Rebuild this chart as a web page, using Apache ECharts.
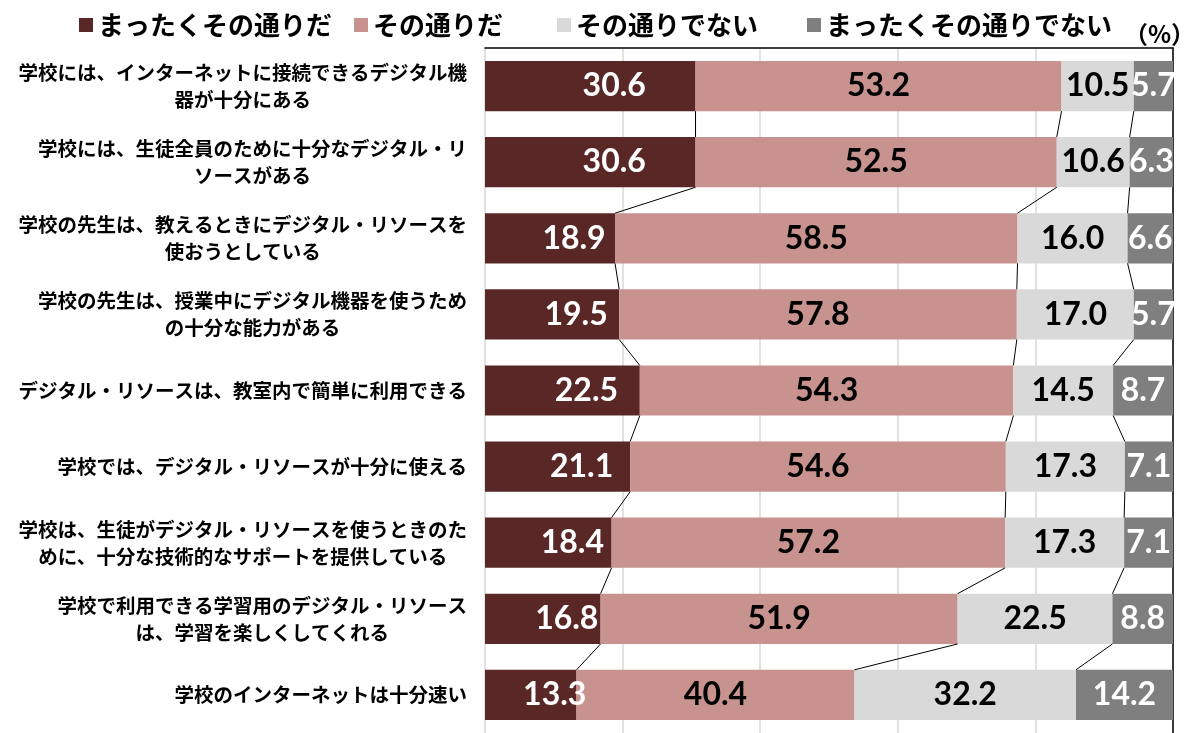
<!DOCTYPE html>
<html><head><meta charset="utf-8">
<script src="https://cdn.jsdelivr.net/npm/echarts@6/dist/echarts.min.js"></script>
<style>html,body{margin:0;padding:0;background:#fff}#c{width:1200px;height:733px}</style>
</head><body><div id="c"></div>
<script>
const categories = [
  '学校には、インターネットに接続できるデジタル機\n器が十分にある',
  '学校には、生徒全員のために十分なデジタル・リ\nソースがある',
  '学校の先生は、教えるときにデジタル・リソースを\n使おうとしている',
  '学校の先生は、授業中にデジタル機器を使うため\nの十分な能力がある',
  'デジタル・リソースは、教室内で簡単に利用できる',
  '学校では、デジタル・リソースが十分に使える',
  '学校は、生徒がデジタル・リソースを使うときのた\nめに、十分な技術的なサポートを提供している',
  '学校で利用できる学習用のデジタル・リソース\nは、学習を楽しくしてくれる',
  '学校のインターネットは十分速い'
];
const seriesNames = ['まったくその通りだ', 'その通りだ', 'その通りでない', 'まったくその通りでない'];
const stronglyAgree    = [30.6, 30.6, 18.9, 19.5, 22.5, 21.1, 18.4, 16.8, 13.3];
const agree            = [53.2, 52.5, 58.5, 57.8, 54.3, 54.6, 57.2, 51.9, 40.4];
const disagree         = [10.5, 10.6, 16.0, 17.0, 14.5, 17.3, 17.3, 22.5, 32.2];
const stronglyDisagree = [5.7, 6.3, 6.6, 5.7, 8.7, 7.1, 7.1, 8.8, 14.2];
const xTicks = [0, 20, 40, 60, 80, 100];
const unitLabel = '（%）';

const values = [stronglyAgree, agree, disagree, stronglyDisagree];
const colors = ['#592826', '#c8928f', '#d9d9d9', '#7f7f7f'];
const labelColors = ['#ffffff', '#000000', '#000000', '#ffffff'];
const labelOffsets = [[24, 0], [0, 0], [0, 0], [0, 0]];
const legendLefts = [79, 354, 557, 807];
const BAR_RATIO = 0.66;
const CAT_FS = 19.5;

// cumulative boundaries for connector lines
const cum = [];
let run = categories.map(() => 0);
for (let k = 0; k < 3; k++) {
  run = run.map((r, i) => +(r + values[k][i]).toFixed(1));
  cum.push(run.slice());
}
const connectorData = [];
cum.forEach(c => {
  for (let i = 0; i < categories.length - 1; i++) connectorData.push([c[i], c[i + 1], i]);
});

const rich = {};
for (let n = 1; n <= 30; n++) {
  rich['w' + n] = { width: n * CAT_FS, align: 'center', fontSize: CAT_FS, lineHeight: 27,
    fontWeight: 'bold', color: '#000', fontFamily: 'Noto Sans CJK JP' };
}

const barSeries = seriesNames.map((name, k) => ({
  name, type: 'bar', stack: 'total', data: values[k],
  barCategoryGap: '34%',
  itemStyle: { color: colors[k] },
  label: {
    show: true, position: 'inside', offset: labelOffsets[k],
    formatter: p => Number(p.value).toFixed(1),
    color: labelColors[k], fontSize: 32, fontWeight: 'bold', fontFamily: 'Lato'
  },
  z: 2
}));

const legends = seriesNames.map((name, k) => ({
  data: [name], left: legendLefts[k], top: 12, padding: 0,
  icon: 'rect', itemWidth: 14, itemHeight: 14, selectedMode: false,
  textStyle: { fontSize: 26, fontWeight: 'bold', color: '#000', fontFamily: 'Noto Sans CJK JP' }
}));

const chart = echarts.init(document.getElementById('c'));
chart.setOption({
  animation: false,
  backgroundColor: '#fff',
  legend: legends,
  grid: { left: 485, right: 27, top: 48, bottom: -2, containLabel: false },
  xAxis: {
    type: 'value', min: xTicks[0], max: xTicks[xTicks.length - 1], interval: xTicks[1] - xTicks[0],
    position: 'top',
    axisLine: { show: true, lineStyle: { color: '#000', width: 1.5 } },
    axisTick: { show: false }, axisLabel: { show: false },
    splitLine: { show: true, lineStyle: { color: '#d9d9d9', width: 1.5 } }
  },
  yAxis: [{
    type: 'category', data: categories, inverse: true,
    axisLine: { show: false }, axisTick: { show: false },
    axisLabel: {
      margin: 18,
      formatter: v => {
        const lines = v.split('\n');
        const n = Math.max(...lines.map(l => l.length));
        return lines.map(l => '{w' + n + '|' + l + '}').join('\n');
      },
      rich
    }
  }, {
    type: 'category', data: categories, inverse: true, position: 'right',
    axisLine: { show: true, lineStyle: { color: '#000', width: 1.5 } },
    axisTick: { show: false }, axisLabel: { show: false }, splitLine: { show: false }
  }],
  graphic: [{
    type: 'text', left: 1124, top: 22,
    style: { text: unitLabel, fontSize: 24, fontWeight: 'bold', fill: '#000', fontFamily: 'Noto Sans CJK JP' }
  }],
  series: [...barSeries, {
    type: 'custom', name: 'connectors', data: connectorData,
    encode: { x: [0, 1], y: 2 }, z: 3, silent: true,
    renderItem: (params, api) => {
      const i = api.value(2);
      const p1 = api.coord([api.value(0), i]);
      const p2 = api.coord([api.value(1), i + 1]);
      const half = api.size([0, 1])[1] * BAR_RATIO / 2;
      return { type: 'line', shape: { x1: p1[0], y1: p1[1] + half, x2: p2[0], y2: p2[1] - half },
        style: { stroke: '#000', lineWidth: 1 } };
    }
  }]
});
</script></body></html>
